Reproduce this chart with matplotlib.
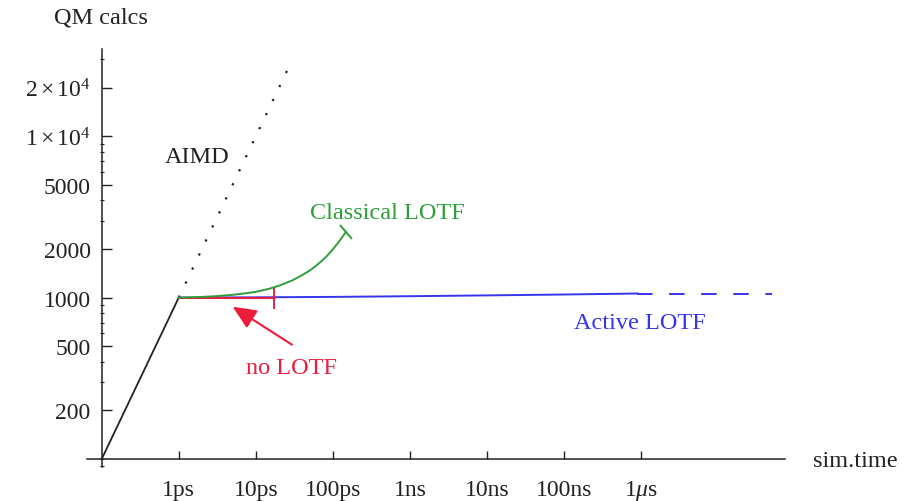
import matplotlib
matplotlib.use("Agg")
import matplotlib.pyplot as plt
from matplotlib.markers import MarkerStyle
from matplotlib.transforms import Affine2D
from matplotlib.ticker import LogLocator, NullLocator, NullFormatter

plt.rcParams['font.family'] = ['Liberation Serif', 'DejaVu Serif']
plt.rcParams['mathtext.fontset'] = 'custom'
plt.rcParams['mathtext.rm'] = 'Liberation Serif'
plt.rcParams['mathtext.it'] = 'Liberation Serif:italic'

# ---- data (time in ps, y = number of QM calcs) ----
x_ticks = [1, 10, 100, 1e3, 1e4, 1e5, 1e6]
x_labels = ['1ps', '10ps', '100ps', '1ns', '10ns', '100ns', r'1$\mu$s']
y_ticks = [200, 500, 1000, 2000, 5000, 1e4, 2e4]
y_labels = ['200', '500', '1000', '2000', '5000', r'$1\times10^4$', r'$2\times10^4$']

aimd_x = [0.1, 1]
aimd_y = [100, 1000]
aimd_dot_x = [1, 28.5]
aimd_dot_y = [1000, 28500]

classical_x = [1, 1.5, 2, 3, 5, 7, 10, 15, 20, 30, 40, 50, 60, 70, 80, 100, 120, 148]
classical_y = [1000, 1005, 1010, 1020, 1040, 1060, 1085, 1135, 1185, 1280, 1380,
               1470, 1570, 1670, 1770, 1990, 2220, 2550]

nolotf_x = [1, 17]
nolotf_y = [1000, 1000]

active_x = [1, 10, 100, 1e3, 1e4, 1e5, 9e5]
active_y = [1000, 1004, 1010, 1020, 1032, 1045, 1060]
active_dash_x = [9e5, 5e7]
active_dash_y = [1060, 1060]

GREEN = '#2f9e3a'
BLUE = '#3535ee'
RED = '#ee1c3c'
INK = '#222222'

fig = plt.figure(figsize=(9.14, 5.02), dpi=100)
ax = fig.add_axes([87/914, 1-468/502, (785-87)/914, (468-50)/502])
ax.set_xscale('log')
ax.set_yscale('log')
ax.set_xlim(0.0644, 7.4e7)
ax.set_ylim(89.2, 34700)

for s in ['top', 'right']:
    ax.spines[s].set_visible(False)
ax.spines['left'].set_position(('data', 0.1))
ax.spines['bottom'].set_position(('data', 100))
for s in ['left', 'bottom']:
    ax.spines[s].set_linewidth(1.1)
    ax.spines[s].set_color(INK)

ax.set_xticks(x_ticks, x_labels)
ax.xaxis.set_minor_locator(NullLocator())
ax.set_yticks(y_ticks, y_labels)
ax.yaxis.set_minor_locator(LogLocator(base=10, subs=range(1, 10)))
ax.yaxis.set_minor_formatter(NullFormatter())
ax.tick_params(axis='x', which='major', direction='in', length=6, width=1, pad=26,
               labelsize=17, colors=INK)
ax.tick_params(axis='y', which='major', direction='in', length=7, width=1, pad=8,
               labelsize=17, colors=INK)
ax.tick_params(axis='y', which='minor', direction='inout', length=3, width=0.8,
               colors=INK)
for lbl in ax.get_xticklabels():
    lbl.set_verticalalignment('baseline')

# lines
ax.plot(aimd_x, aimd_y, color=INK, lw=1.3, solid_capstyle='round')
ax.plot(aimd_dot_x, aimd_dot_y, color=INK, lw=1.6, linestyle=(0, (1, 6)))
ax.plot(active_x, active_y, color=BLUE, lw=1.4)
ax.plot(active_dash_x, active_dash_y, color=BLUE, lw=1.4, linestyle=(0, (8, 8.5)))
ax.plot(nolotf_x, nolotf_y, color=RED, lw=1.4)
ax.plot(nolotf_x[-1:], nolotf_y[-1:], marker='|', markersize=16, mew=1.4, color=RED)
ax.plot(classical_x, classical_y, color=GREEN, lw=1.4)
tcap = MarkerStyle('_', transform=Affine2D().rotate_deg(-52))
ax.plot(classical_x[-1:], classical_y[-1:], marker=tcap, markersize=13, mew=1.4,
        color=GREEN, linestyle='none')

# arrow
ax.annotate('', xy=(5.0, 879), xytext=(29.4, 511),
            arrowprops=dict(arrowstyle='-|>,head_length=0.72,head_width=0.32',
                            color=RED, lw=1.5, shrinkA=0, shrinkB=0,
                            mutation_scale=20))

# labels
ax.text(1.71, 7510, 'AIMD', fontsize=17.5, ha='center', va='center', color=INK)
ax.text(518, 3370, 'Classical LOTF', fontsize=17.5, ha='center', va='center', color=GREEN)
ax.text(9.7e5, 699, 'Active LOTF', fontsize=17.5, ha='center', va='center', color=BLUE)
ax.text(29, 367, 'no LOTF', fontsize=17.5, ha='center', va='center', color=RED)
fig.text(101/914, 1-18/502, 'QM calcs', fontsize=17.5, ha='center', va='center',
         color=INK)
fig.text(855/914, 1-462/502, 'sim.time', fontsize=17.5, ha='center', va='center',
         color=INK)

fig.savefig('out.png', dpi=100)
